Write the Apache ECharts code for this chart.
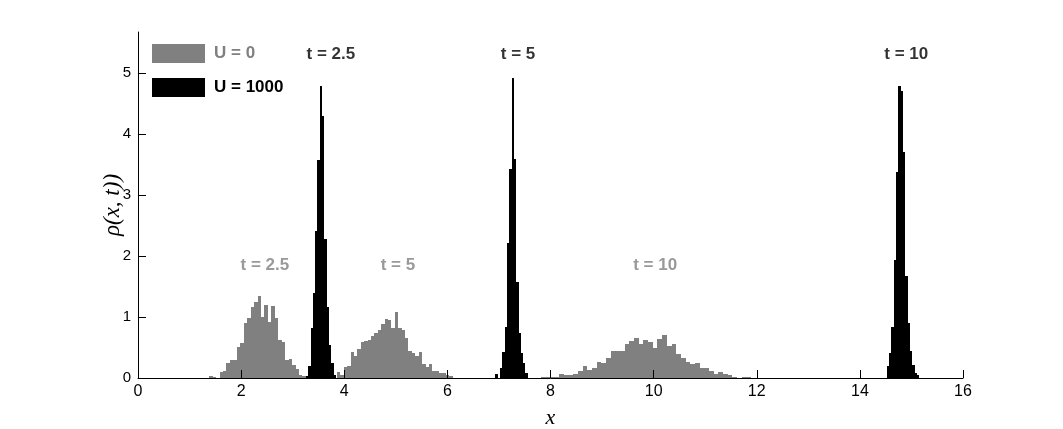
<!DOCTYPE html>
<html>
<head>
<meta charset="utf-8">
<script src="https://cdn.jsdelivr.net/npm/echarts@6/dist/echarts.min.js"></script>
<style>
html,body{margin:0;padding:0;background:#fff;}
#chart{width:1063px;height:429px;}
</style>
</head>
<body>
<div id="chart"></div>
<script>
// ---------- data (histogram bins: first left edge, bin width, bar heights) ----------
const xTicks = [0, 2, 4, 6, 8, 10, 12, 14, 16];
const yTicks = [0, 1, 2, 3, 4, 5];

// U = 0 (gray)
const u0_t25_start = 1.38, u0_t25_width = 0.067;
const u0_t25 = [0.03, 0.01, 0.0, 0.10, 0.11, 0.25, 0.29, 0.30, 0.50, 0.58, 0.90, 0.98, 1.16, 1.25, 1.34, 1.00, 1.20, 0.92, 1.18, 0.98, 0.62, 0.59, 0.30, 0.31, 0.21, 0.15, 0.05, 0.04];

const u0_t5_start = 3.86, u0_t5_width = 0.066;
const u0_t5 = [0.10, 0.045, 0.18, 0.20, 0.43, 0.36, 0.47, 0.59, 0.61, 0.62, 0.69, 0.73, 0.79, 0.88, 0.97, 0.95, 0.82, 1.08, 0.82, 0.78, 0.66, 0.44, 0.41, 0.36, 0.43, 0.23, 0.18, 0.23, 0.11, 0.12, 0.09, 0.08, 0.05, 0.03];

const u0_t10_start = 7.81, u0_t10_width = 0.0906;
const u0_t10 = [0.015, 0.015, 0.02, 0.02, 0.07, 0.055, 0.055, 0.07, 0.12, 0.19, 0.13, 0.16, 0.26, 0.24, 0.32, 0.44, 0.44, 0.44, 0.56, 0.60, 0.66, 0.56, 0.63, 0.59, 0.49, 0.64, 0.70, 0.53, 0.55, 0.40, 0.33, 0.26, 0.23, 0.24, 0.16, 0.16, 0.11, 0.07, 0.10, 0.065, 0.055, 0.015, 0.0, 0.015, 0.01];

// U = 1000 (black)
const u1000_t25_start = 3.256, u1000_t25_width = 0.045;
const u1000_t25 = [0.03, 0.19, 0.82, 1.39, 2.41, 3.58, 4.78, 4.30, 2.27, 1.17, 0.54, 0.25, 0.05];

const u1000_t5_start = 6.93, u1000_t5_width = 0.045;
const u1000_t5 = [0.07, 0.0, 0.16, 0.43, 0.84, 2.21, 3.42, 4.91, 3.59, 1.58, 0.74, 0.41, 0.25, 0.08];

const u1000_t10_start = 14.52, u1000_t10_width = 0.045;
const u1000_t10 = [0.19, 0.41, 0.84, 1.94, 3.37, 4.79, 4.70, 3.70, 1.67, 0.90, 0.45, 0.21, 0.08, 0.05];

// annotations
const grayLabels = ['t = 2.5', 't = 5', 't = 10'];
const grayLabelX = [2.46, 5.04, 10.03];
const grayLabelY = 1.84;
const blackLabels = ['t = 2.5', 't = 5', 't = 10'];
const blackLabelX = [3.74, 7.37, 14.90];
const blackLabelY = 5.30;

// ---------- build ----------
function bins(start, width, heights) {
  return heights.map((h, i) => [start + i * width, start + (i + 1) * width, h]);
}
const grayData = [].concat(
  bins(u0_t25_start, u0_t25_width, u0_t25),
  bins(u0_t5_start, u0_t5_width, u0_t5),
  bins(u0_t10_start, u0_t10_width, u0_t10)
);
const blackData = [].concat(
  bins(u1000_t25_start, u1000_t25_width, u1000_t25),
  bins(u1000_t5_start, u1000_t5_width, u1000_t5),
  bins(u1000_t10_start, u1000_t10_width, u1000_t10)
);

const GRAY = '#808080';
function renderItem(params, api) {
  const x0 = api.value(0), x1 = api.value(1), h = api.value(2);
  if (h <= 0) return null;
  const p0 = api.coord([x0, h]);
  const p1 = api.coord([x1, 0]);
  const left = Math.round(p0[0]);
  const right = Math.round(p1[0]);
  const top = Math.round(p0[1]);
  const bottom = Math.round(p1[1]);
  const c = api.visual('color');
  return {
    type: 'rect',
    shape: { x: left, y: top, width: Math.max(1, right - left), height: bottom - top },
    style: { fill: c }
  };
}

const labelFont = "'Liberation Sans', Arial, Helvetica, sans-serif";
const tickFont = "'Liberation Sans Narrow', 'Liberation Sans', Arial, sans-serif";
const chart = echarts.init(document.getElementById('chart'), null, { renderer: 'canvas' });

const annData = grayLabels.map((t, i) => ({ value: [grayLabelX[i], grayLabelY], name: t, label: { color: GRAY } }))
  .concat(blackLabels.map((t, i) => ({ value: [blackLabelX[i], blackLabelY], name: t, label: { color: '#000' } })));

chart.setOption({
  animation: false,
  backgroundColor: '#fff',
  grid: { left: 138, right: 100, top: 32, bottom: 51, containLabel: false, outerBoundsMode: 'none' },
  legend: {
    orient: 'vertical', left: 152, top: 44, padding: 0, itemWidth: 53, itemHeight: 19, itemGap: 15,
    icon: 'rect', selectedMode: false,
    textStyle: { fontFamily: labelFont, fontWeight: 'bold', fontSize: 17, padding: [0, 0, 0, 4] },
    data: [
      { name: 'U = 0', textStyle: { color: GRAY } },
      { name: 'U = 1000', textStyle: { color: '#000' } }
    ]
  },
  xAxis: {
    type: 'value', min: 0, max: 16, interval: 2, z: 10,
    axisLine: { show: true, lineStyle: { color: '#000', width: 1 } },
    axisTick: { show: true, inside: true, length: 8, lineStyle: { color: '#000' }, customValues: xTicks },
    axisLabel: { show: true, color: '#000', fontFamily: tickFont, fontSize: 16, margin: 6, customValues: xTicks },
    splitLine: { show: false },
    name: 'x', nameLocation: 'middle', nameGap: 29, nameMoveOverlap: false,
    nameTextStyle: { fontFamily: "'Liberation Serif', 'DejaVu Serif', serif", fontStyle: 'italic', fontSize: 22, color: '#000' }
  },
  yAxis: {
    type: 'value', min: 0, max: 5.67, interval: 1, z: 10,
    axisLine: { show: true, lineStyle: { color: '#000', width: 1 } },
    axisTick: { show: true, inside: true, length: 8, lineStyle: { color: '#000' }, customValues: yTicks },
    axisLabel: { show: true, color: '#000', fontFamily: tickFont, fontSize: 15, margin: 7, customValues: yTicks },
    splitLine: { show: false },
    name: 'ρ(x, t))', nameLocation: 'middle', nameGap: 14, nameMoveOverlap: false,
    nameTextStyle: { fontFamily: "'Liberation Serif', 'DejaVu Serif', serif", fontStyle: 'italic', fontSize: 23, color: '#000' }
  },
  series: [
    { name: 'U = 0', type: 'custom', renderItem: renderItem, itemStyle: { color: GRAY },
      encode: { x: [0, 1], y: 2 }, data: grayData, z: 2 },
    { name: 'U = 1000', type: 'custom', renderItem: renderItem, itemStyle: { color: '#000' },
      encode: { x: [0, 1], y: 2 }, data: blackData, z: 3 },
    { name: 'ann', type: 'scatter', symbolSize: 0, silent: true, z: 5,
      label: { show: true, position: 'inside', formatter: p => p.name,
        fontFamily: labelFont, fontWeight: 'bold', fontSize: 17 },
      data: annData }
  ]
});
</script>
</body>
</html>
